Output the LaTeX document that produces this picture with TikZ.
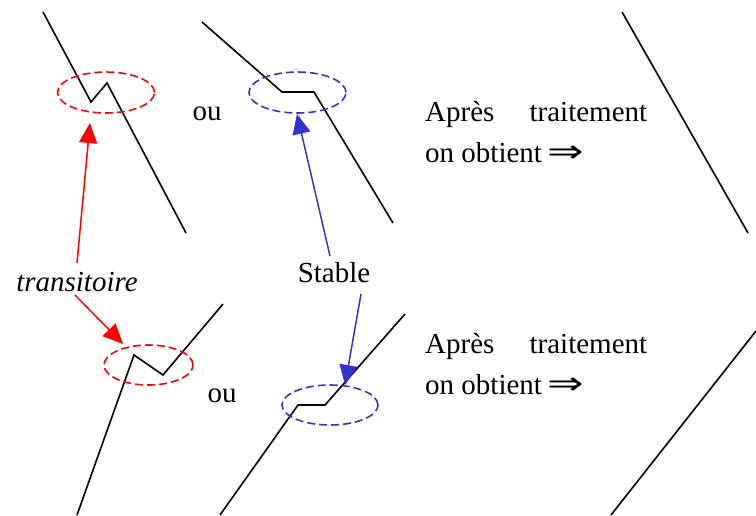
\documentclass[tikz,border=0pt]{standalone}
\usepackage{fontspec}
\usepackage{graphicx}
\setmainfont{Liberation Serif}
\newfontfamily\arrowfont{DejaVu Sans}
\usetikzlibrary{arrows.meta,shapes.geometric}
\definecolor{myblue}{RGB}{51,51,204}
\newcommand{\bigimplies}{\scalebox{1.5}[1.1]{\arrowfont ⇒}}
\tikzset{
  curve/.style={draw=black,line width=1.6pt,line join=miter},
  hole/.style={ellipse,draw,line width=1.6pt,dash pattern=on 8pt off 4pt,inner sep=0pt},
  redhole/.style={hole,draw=red},
  bluehole/.style={hole,draw=myblue},
  redarrow/.style={draw=red,line width=1.5pt,-{Triangle[length=20pt,width=18pt]}},
  bluearrow/.style={draw=myblue,line width=1.5pt,-{Triangle[length=20pt,width=18pt]}},
  block/.style={font=\fontsize{29}{41}\selectfont,inner sep=0pt,anchor=north west,align=left},
  itxt/.style={font=\fontsize{29}{34}\selectfont\itshape,inner sep=0pt,anchor=base},
  ctxt/.style={font=\fontsize{29}{34}\selectfont,inner sep=0pt,anchor=base},
}
\begin{document}
\begin{tikzpicture}[x=1pt,y=-1pt]
\useasboundingbox (0,0) rectangle (756,515);
% top row curves
\draw[curve] (43,12) -- (91,102) -- (107,83) -- (186,233);
\draw[curve] (202,22) -- (282,92) -- (314,92) -- (393,223);
\draw[curve] (622,12) -- (748,233);
% bottom row curves
\draw[curve] (77,515) -- (134,355) -- (163,375) -- (223,304);
\draw[curve] (220,515) -- (298,405) -- (325,405) -- (405,314);
\draw[curve] (756,331) -- (611,515);
% ellipses
\node[redhole,minimum width=97pt,minimum height=41pt] (e1) at (106,92.5) {};
\node[bluehole,minimum width=97pt,minimum height=41pt] (e2) at (297.5,92.5) {};
\node[redhole,minimum width=89pt,minimum height=40pt] (e3) at (148.5,365) {};
\node[bluehole,minimum width=96pt,minimum height=40pt] (e4) at (330,405) {};
% texts
\node[ctxt] (ou1) at (207,120) {ou};
\node[ctxt] (ou2) at (222,402) {ou};
\node[itxt] (trans) at (77,291) {transitoire};
\node[ctxt] (stab) at (334,282) {Stable};
\node[block] (b1) at (425,101) {\makebox[222pt][s]{Après\hfill traitement}\\on obtient\hspace{6pt}\bigimplies};
\node[block] (b2) at (425,333) {\makebox[222pt][s]{Après\hfill traitement}\\on obtient\hspace{6pt}\bigimplies};
% arrow ends
\coordinate (r1s) at (77,263);
\coordinate (r1t) at (90,123);
\coordinate (r2s) at (75,295);
\coordinate (r2t) at (123,344);
\coordinate (b1s) at (330,256);
\coordinate (b1t) at (297,114);
\coordinate (b2s) at (361,294);
\coordinate (b2t) at (345,385);
\draw[redarrow] (r1s) -- (r1t);
\draw[redarrow] (r2s) -- (r2t);
\draw[bluearrow] (b1s) -- (b1t);
\draw[bluearrow] (b2s) -- (b2t);
\end{tikzpicture}
\end{document}
